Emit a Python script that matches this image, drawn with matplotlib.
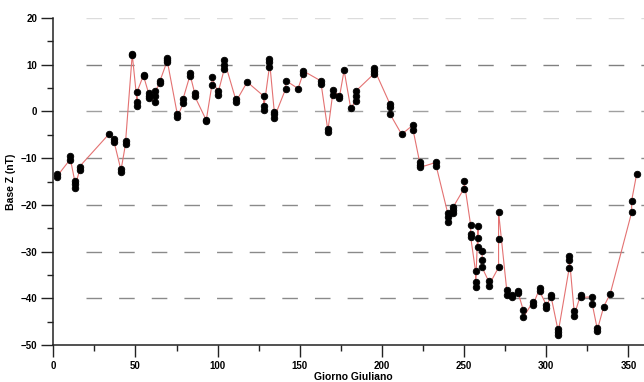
import matplotlib
matplotlib.use("Agg")
import matplotlib.pyplot as plt
from matplotlib.ticker import MultipleLocator

# Julian day of each measurement (repeated days = several readings that day)
giorno = [
    2, 2, 10, 10, 13, 13, 13, 16, 16, 34, 37, 37, 41, 41, 44, 44,
    48, 48, 51, 51, 51, 55, 55, 58, 58, 58, 62, 62, 62, 65, 65,
    69, 69, 69, 75.5, 75.5, 79, 79, 83, 83, 86, 86, 93, 93,
    96.5, 96.5, 100, 100, 104, 104, 104, 111, 111, 118,
    128, 128, 128, 131.5, 131.5, 131.5, 134.5, 134.5, 134.5,
    141.5, 141.5, 149, 152, 152, 163, 163, 167, 167, 170, 170,
    174, 174, 177, 181, 184, 184, 184, 195, 195, 195,
    205, 205, 205, 212, 219, 219, 223, 223, 223, 233, 233,
    240, 240, 240, 243.5, 243.5, 243.5, 250, 250,
    254, 254, 254, 257, 257, 257, 258.5, 258.5, 258.5,
    261, 261, 261, 265, 265, 271, 271, 271, 276, 276,
    279, 279, 283, 283, 286, 286, 292, 292, 296, 296,
    300, 300, 303, 303, 307, 307, 307, 314, 314, 314,
    317, 317, 321, 321, 328, 328, 331, 331, 335, 339,
    352, 352, 355,
]

# Base Z residual (nT)
base_z = [
    -13.4, -14.0, -10.4, -9.5, -14.8, -15.6, -16.3, -12.6, -11.8, -4.8, -6.0, -6.5,
    -12.3, -13.0, -6.9, -6.4,
    12.0, 12.35, 2.0, 1.1, 4.2, 7.85, 7.5, 3.9, 3.3, 2.8, 2.1, 3.4, 4.4, 6.1, 6.6,
    10.5, 11.0, 11.5, -0.65, -1.2, 1.7, 2.7, 7.5, 8.2, 4.0, 3.3, -1.8, -2.1,
    5.6, 7.3, 4.3, 3.6, 9.0, 10.0, 11.0, 2.6, 2.0, 6.3,
    3.3, 1.2, 0.4, 9.5, 10.5, 11.2, -0.1, -0.6, -1.3,
    4.9, 6.6, 4.9, 8.1, 8.7, 6.5, 5.9, -3.8, -4.5, 3.6, 4.5,
    3.4, 2.8, 8.8, 0.7, 2.2, 3.3, 4.3, 8.0, 8.7, 9.3,
    1.5, 1.0, -0.6, -4.9, -2.9, -4.0, -10.9, -11.5, -12.0, -10.9, -11.6,
    -21.7, -22.7, -23.7, -21.7, -21.0, -20.4, -16.5, -14.8,
    -24.3, -26.3, -26.8, -34.2, -36.5, -37.5, -24.6, -27.1, -29.1,
    -29.8, -31.8, -33.4, -36.4, -37.3, -33.4, -27.4, -21.5, -38.3, -39.4,
    -39.3, -39.8, -38.4, -38.9, -42.5, -44.1, -40.7, -41.4, -37.9, -38.5,
    -41.4, -42.0, -39.2, -39.7, -46.5, -47.3, -47.9, -33.5, -31.7, -31.0,
    -42.8, -43.7, -39.2, -39.8, -39.7, -41.2, -46.4, -46.9, -41.8, -39.0,
    -21.6, -19.1, -13.5,
]

x_ticks = [0, 50, 100, 150, 200, 250, 300, 350]
y_ticks = [-50, -40, -30, -20, -10, 0, 10, 20]
grid_levels = [-40, -30, -20, -10, 0, 10, 20]
grid_colors = ['#8a8a8a', '#8a8a8a', '#8a8a8a', '#8a8a8a', '#a0a0a0', '#808080', '#dcdcdc']

plt.rcParams['font.family'] = ['Liberation Sans', 'DejaVu Sans']

W, H = 644, 382
fig = plt.figure(figsize=(W / 100, H / 100), dpi=100)
ax = fig.add_axes([53.3 / W, 1 - 345 / H, 599.7 / W, (345 - 18) / H])
ax.set_xlim(0, 365)
ax.set_ylim(-50, 20)

# dashed horizontal reference lines
for lev, col in zip(grid_levels, grid_colors):
    ax.axhline(lev, xmin=0.0545, color=col, lw=1.0,
               linestyle=(0, (11.2, 12.3)), zorder=0)

ax.plot(giorno, base_z, color='#e47272', lw=0.8, zorder=2)
ax.plot(giorno, base_z, linestyle='none', marker='o', ms=4.7, mew=0.6,
        color='black', zorder=3)

for side in ('top', 'right'):
    ax.spines[side].set_visible(False)
for side in ('left', 'bottom'):
    ax.spines[side].set_linewidth(1.1)
    ax.spines[side].set_color('#222222')

ax.set_xticks(x_ticks)
ax.set_yticks(y_ticks)
ax.xaxis.set_minor_locator(MultipleLocator(25))
ax.yaxis.set_minor_locator(MultipleLocator(5))
ax.tick_params(which='major', direction='out', length=8.6, width=1.0,
               color='#222222', labelsize=7, pad=3)
ax.tick_params(which='minor', direction='out', length=4.2, width=1.0,
               color='#222222')
for lab in ax.get_xticklabels() + ax.get_yticklabels():
    lab.set_fontweight('bold')

ax.set_xlabel('Giorno Giuliano', fontsize=7.5, fontweight='bold', labelpad=1)
ax.set_ylabel('Base Z (nT)', fontsize=7.5, fontweight='bold', labelpad=3)

fig.savefig('out.png', dpi=100)
